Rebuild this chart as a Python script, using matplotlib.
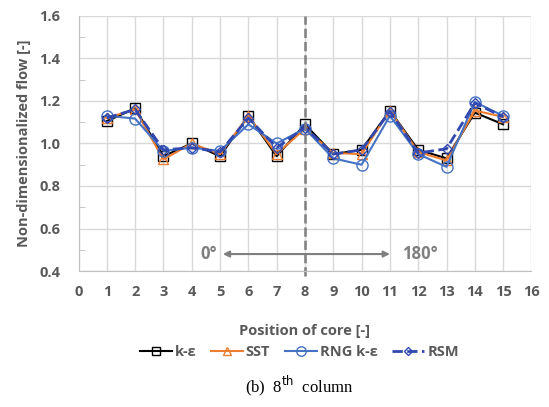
import matplotlib.pyplot as plt
import numpy as np

# data
pos = np.arange(1, 16)
k_eps = [1.105, 1.165, 0.94, 1.00, 0.94, 1.13, 0.94, 1.09, 0.95, 0.97, 1.155, 0.97, 0.93, 1.145, 1.09]
sst   = [1.12, 1.16, 0.925, 1.00, 0.95, 1.13, 0.95, 1.07, 0.955, 0.95, 1.155, 0.96, 0.92, 1.155, 1.125]
rng   = [1.13, 1.117, 0.965, 0.98, 0.965, 1.09, 1.00, 1.07, 0.93, 0.90, 1.13, 0.95, 0.89, 1.195, 1.13]
rsm   = [1.12, 1.16, 0.97, 0.98, 0.96, 1.12, 0.98, 1.075, 0.95, 0.97, 1.15, 0.955, 0.975, 1.19, 1.125]

gray = '#595959'
plt.rcParams['font.family'] = ['Open Sans', 'DejaVu Sans']

fig = plt.figure(figsize=(5.49, 4.07), dpi=100)
ax = fig.add_axes([0.143, 0.334, 0.825, 0.627])

ax.plot(pos, k_eps, color='black', marker='s', mfc='none', ms=7, lw=1.5, label='k-ε')
ax.plot(pos, sst, color='#ED7D31', marker='^', mfc='none', ms=7, lw=1.5, label='SST')
ax.plot(pos, rng, color='#4472C4', marker='o', mfc='none', ms=8, lw=1.5, label='RNG k-ε')
ax.plot(pos, rsm, color='#3048B0', marker='D', mfc='none', ms=5, lw=2, ls='--', label='RSM')

ax.plot([8, 8], [0.375, 1.6], color='#7f7f7f', ls='--', lw=1.8, clip_on=False)
ax.annotate('', xy=(5.0, 0.48), xytext=(11.1, 0.48),
            arrowprops=dict(arrowstyle='<|-|>', color='#7f7f7f', lw=1.5, mutation_scale=9))
ax.text(4.6, 0.48, '0°', color='#7f7f7f', fontsize=12, ha='center', va='center', fontweight='bold')
ax.text(12.05, 0.48, '180°', color='#7f7f7f', fontsize=12, ha='center', va='center', fontweight='bold')

ax.set_xlim(0, 16)
ax.set_ylim(0.4, 1.6)
ax.set_xticks(range(0, 17))
ax.set_yticks(np.arange(0.4, 1.61, 0.2))
ax.set_yticks(np.arange(0.5, 1.6, 0.2), minor=True)
ax.set_yticklabels([f'{v:.1f}' for v in np.arange(0.4, 1.61, 0.2)])
ax.grid(True, color='#d9d9d9', lw=1)
ax.tick_params(axis='both', which='major', length=0, labelsize=10.5, colors=gray)
ax.tick_params(axis='x', which='major', pad=10)
ax.tick_params(axis='y', which='major', pad=13)
ax.tick_params(axis='y', which='minor', length=4, color='#bfbfbf', direction='in')
for lab in ax.get_xticklabels() + ax.get_yticklabels():
    lab.set_fontweight('bold')
for s in ['top', 'right']:
    ax.spines[s].set_visible(False)
for s in ['left', 'bottom']:
    ax.spines[s].set_color('#bfbfbf')

ax.set_xlabel('Position of core [-]', color=gray, fontsize=10.5, fontweight='bold', labelpad=18)
ax.set_ylabel('Non-dimensionalized flow [-]', color=gray, fontsize=10.5, fontweight='bold', labelpad=6)

leg = fig.legend(loc='center', bbox_to_anchor=(0.545, 0.135), ncol=4, frameon=False,
                 handlelength=2.2, handletextpad=0.2, columnspacing=1.0, fontsize=10.5,
                 markerscale=0.85)
for t in leg.get_texts():
    t.set_color(gray)
    t.set_fontweight('bold')

fig.text(0.545, 0.052, r'(b)  8$^{\rm th}$  column', ha='center', va='center',
         fontsize=12, family='Liberation Serif')

fig.savefig('out.png', dpi=100)
